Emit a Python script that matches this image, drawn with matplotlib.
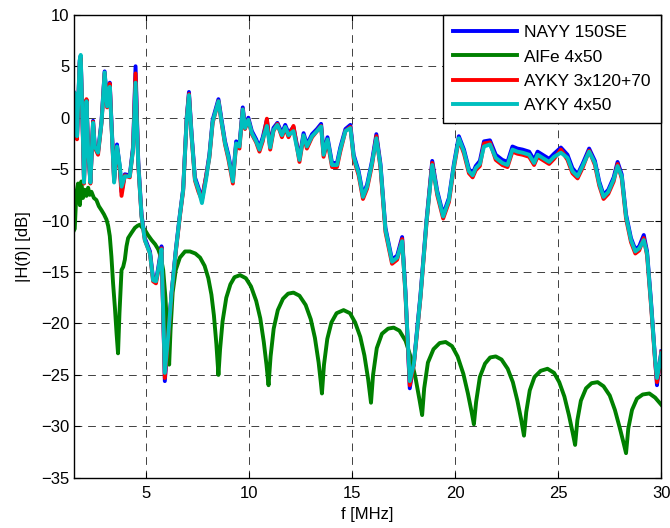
import matplotlib
matplotlib.use("Agg")
import matplotlib.pyplot as plt

plt.rcParams['font.family'] = ['Liberation Sans', 'DejaVu Sans']

# frequency points for the three AYKY/NAYY curves (MHz)
f_cable = [1.5, 1.55, 1.66, 1.79, 1.84, 1.95, 2.0, 2.12, 2.2, 2.31, 2.44, 2.52, 2.68, 2.85, 3.0,
           3.12, 3.25, 3.33, 3.46, 3.6, 3.74, 3.82, 3.98, 4.22, 4.38, 4.5, 4.63, 4.79, 4.95, 5.2,
           5.35, 5.49, 5.6, 5.76, 5.92, 6.08, 6.25, 6.45, 6.65, 6.81, 6.98, 7.09, 7.22, 7.38, 7.55,
           7.72, 7.92, 8.08, 8.24, 8.52, 8.68, 8.84, 9.0, 9.22, 9.38, 9.54, 9.7, 9.81, 9.97, 10.14,
           10.35, 10.51, 10.67, 10.87, 11.03, 11.19, 11.38, 11.6, 11.76, 11.92, 12.16, 12.45, 12.65, 12.81, 13.06,
           13.3, 13.5, 13.62, 13.81, 14.03, 14.27, 14.43, 14.68, 14.92, 15.08, 15.32, 15.53, 15.73, 15.97, 16.18,
           16.38, 16.62, 16.94, 17.19, 17.43, 17.59, 17.8, 18.0, 18.32, 18.61, 18.89, 19.13, 19.42, 19.7, 19.94,
           20.18, 20.43, 20.67, 20.85, 21.0, 21.2, 21.4, 21.69, 21.97, 22.29, 22.54, 22.78, 23.02, 23.27, 23.59,
           23.83, 24.0, 24.24, 24.56, 24.8, 25.13, 25.45, 25.69, 25.94, 26.18, 26.5, 26.78, 26.99, 27.2, 27.43,
           27.69, 27.88, 28.08, 28.29, 28.53, 28.74, 28.93, 29.15, 29.31, 29.5, 29.7, 29.79, 29.9, 30.0]

ayky_4x50 = [2.5, 2.4, -1.8, 5.6, 6.1, -2.1, -6.3, 1.6, -3.1, -6.3, -0.5, -2.8, -3.4, -0.5, 4.4,
             1.1, 3.0, -0.5, -6.3, -2.8, -4.7, -6.7, -5.7, -5.7, -3.1, 3.4, -4.4, -9.6, -11.9, -13.2,
             -15.8, -15.9, -14.8, -12.8, -24.8, -21.3, -17.0, -13.0, -9.5, -7.0, -0.2, 2.2, -1.8, -6.0, -7.0,
             -8.3, -6.0, -3.8, -0.4, 1.6, -0.5, -2.5, -3.8, -6.2, -2.5, -2.8, 0.8, -1.0, -0.2, -1.5,
             -2.3, -3.1, -2.1, -0.8, -2.9, -1.2, -0.7, -1.7, -0.9, -1.7, -1.3, -4.1, -1.7, -2.8, -1.8,
             -1.3, -0.85, -3.6, -2.1, -4.6, -4.6, -3.1, -1.3, -1.0, -3.8, -5.4, -7.7, -6.7, -4.4, -2.0,
             -4.7, -10.9, -14.0, -13.6, -12.0, -17.0, -25.6, -23.9, -17.4, -10.2, -4.6, -7.3, -9.6, -8.0, -4.7,
             -2.0, -3.3, -5.2, -5.6, -4.9, -4.5, -2.8, -2.6, -3.9, -4.4, -4.6, -3.1, -3.3, -3.4, -3.6,
             -4.4, -3.6, -3.9, -4.3, -3.8, -3.4, -3.9, -5.2, -5.7, -4.7, -3.3, -4.4, -6.4, -7.7, -7.2,
             -6.0, -4.7, -5.7, -9.6, -11.9, -13.0, -12.7, -11.9, -13.2, -18.0, -23.5, -25.3, -24.2, -22.9]

nayy_150se = [2.5, 2.3, -2.0, 5.5, 6.0, -2.0, -6.1, 1.7, -3.0, -6.2, -0.3, -2.7, -3.3, -0.3, 4.5,
              1.3, 3.4, -0.3, -6.0, -2.6, -4.9, -7.2, -5.5, -5.6, -2.8, 5.0, -4.2, -9.4, -11.7, -13.0,
              -15.6, -15.8, -14.6, -12.5, -25.6, -21.3, -17.0, -12.9, -9.4, -6.9, 0.0, 2.5, -1.6, -5.8, -6.8,
              -7.9, -5.7, -3.6, -0.2, 1.8, -0.3, -2.3, -3.6, -5.9, -2.3, -2.6, 1.0, -0.8, 0.0, -1.3,
              -2.1, -2.9, -1.9, -0.2, -2.7, -1.0, -0.5, -1.5, -0.7, -1.5, -0.9, -3.9, -1.5, -2.6, -1.6,
              -1.1, -0.6, -3.4, -1.9, -4.4, -4.4, -2.9, -1.1, -0.7, -3.6, -5.2, -7.5, -6.5, -4.2, -1.6,
              -4.5, -10.7, -13.8, -13.4, -11.6, -16.8, -26.3, -23.8, -17.2, -10.0, -4.2, -7.1, -9.4, -7.8, -4.5,
              -1.8, -3.1, -5.0, -5.4, -4.7, -4.2, -2.3, -2.2, -3.6, -4.1, -4.3, -2.8, -3.0, -3.1, -3.3,
              -4.1, -3.3, -3.6, -4.0, -3.5, -2.9, -3.6, -4.9, -5.5, -4.5, -3.0, -4.2, -6.2, -7.5, -7.0,
              -5.8, -4.3, -5.5, -9.4, -11.7, -12.8, -12.5, -11.4, -13.0, -17.8, -23.5, -26.0, -24.2, -22.7]

ayky_3x120 = [2.4, 2.2, -2.1, 5.3, 5.8, -2.3, -6.4, 1.8, -3.2, -6.4, -0.4, -2.9, -3.6, -0.5, 4.3,
              1.0, 3.3, -0.6, -6.2, -2.9, -5.1, -7.6, -5.6, -5.8, -3.0, 4.3, -4.5, -9.6, -11.9, -13.2,
              -15.9, -16.1, -14.9, -12.7, -25.3, -21.4, -17.1, -13.1, -9.6, -7.1, -0.1, 2.3, -1.9, -6.1, -7.2,
              -8.0, -5.7, -3.9, -0.5, 1.6, -0.6, -2.6, -4.0, -6.4, -2.6, -3.0, 0.8, -1.1, -0.2, -1.6,
              -2.4, -3.3, -2.3, -0.1, -3.1, -1.3, -0.6, -1.9, -1.0, -1.9, -0.8, -4.3, -1.8, -3.0, -1.9,
              -1.3, -0.8, -3.8, -2.3, -4.8, -4.8, -3.3, -1.3, -0.9, -4.0, -5.6, -7.9, -6.9, -4.6, -1.8,
              -4.9, -11.1, -14.2, -13.8, -11.8, -17.2, -26.0, -24.0, -17.5, -10.3, -4.4, -7.5, -9.8, -8.2, -4.9,
              -2.1, -3.5, -5.4, -5.8, -5.1, -4.7, -2.5, -2.4, -4.1, -4.6, -4.8, -3.3, -3.5, -3.6, -3.8,
              -4.6, -3.8, -4.1, -4.5, -4.0, -3.1, -4.1, -5.4, -5.9, -4.9, -3.2, -4.6, -6.6, -7.9, -7.4,
              -6.2, -4.5, -5.9, -9.8, -12.1, -13.2, -12.9, -11.7, -13.4, -18.2, -23.7, -25.7, -24.4, -22.8]

# frequency points and values for the AlFe curve
f_alfe = [1.5, 1.55, 1.63, 1.71, 1.8, 1.87, 1.95, 2.03, 2.12, 2.2, 2.28, 2.36, 2.48, 2.6, 2.72,
          2.85, 2.97, 3.09, 3.17, 3.25, 3.33, 3.41, 3.5, 3.58, 3.65, 3.72, 3.82, 3.9, 3.98, 4.06,
          4.14, 4.3, 4.47, 4.6, 4.71, 4.83, 4.95, 5.1, 5.28, 5.45, 5.6, 5.72, 5.84, 5.95, 6.05,
          6.13, 6.2, 6.3, 6.45, 6.65, 6.9, 7.14, 7.4, 7.63, 7.85, 8.03, 8.18, 8.3, 8.42, 8.52,
          8.6, 8.72, 8.9, 9.1, 9.3, 9.57, 9.85, 10.1, 10.35, 10.55, 10.72, 10.85, 10.95,
          11.05, 11.2, 11.4, 11.65, 11.9, 12.16, 12.45, 12.75, 13.0, 13.2, 13.38, 13.48, 13.54,
          13.64, 13.8, 14.0, 14.25, 14.59, 14.9, 15.15, 15.4, 15.6, 15.78, 15.92,
          16.02, 16.2, 16.45, 16.75, 17.02, 17.3, 17.6, 17.85, 18.08, 18.28, 18.4,
          18.5, 18.68, 18.95, 19.25, 19.54, 19.85, 20.12, 20.4, 20.62, 20.8, 20.91,
          21.02, 21.2, 21.45, 21.7, 21.97, 22.25, 22.55, 22.8, 23.02, 23.2, 23.34,
          23.45, 23.62, 23.85, 24.15, 24.48, 24.8, 25.05, 25.3, 25.52, 25.7, 25.82,
          25.93, 26.1, 26.35, 26.62, 26.91, 27.2, 27.5, 27.75, 27.98, 28.17, 28.29,
          28.4, 28.58, 28.82, 29.1, 29.42, 29.7, 30.0]

alfe_4x50 = [-11.0, -10.8, -7.3, -6.4, -8.5, -6.2, -7.8, -7.0, -7.6, -6.8, -7.5, -7.2, -7.8, -8.0, -8.6,
             -9.0, -9.4, -9.9, -10.5, -11.5, -13.5, -16.1, -18.5, -21.0, -22.9, -19.0, -14.8, -14.5, -13.8, -12.5,
             -11.7, -11.2, -10.7, -10.5, -10.4, -10.7, -10.9, -11.4, -11.9, -12.3, -12.8, -13.5, -14.8, -17.5, -21.0,
             -24.0, -20.5, -17.0, -14.8, -13.6, -13.0, -13.0, -13.2, -13.6, -14.4, -15.6, -17.2, -19.2, -22.0, -25.0,
             -22.5, -19.8, -17.5, -16.2, -15.5, -15.3, -15.6, -16.4, -17.8, -19.5, -21.8, -24.0, -26.0,
             -23.2, -20.5, -18.7, -17.6, -17.1, -17.0, -17.3, -18.2, -19.6, -21.4, -23.8, -25.6, -26.8,
             -24.0, -21.5, -19.9, -19.0, -18.7, -19.0, -19.9, -21.3, -23.1, -25.4, -27.7,
             -25.0, -22.4, -21.0, -20.5, -20.4, -20.7, -21.7, -23.3, -25.3, -27.5, -28.9,
             -26.3, -23.8, -22.5, -21.9, -21.8, -22.2, -23.2, -24.9, -26.8, -28.6, -29.8,
             -27.6, -25.2, -23.9, -23.3, -23.2, -23.5, -24.4, -25.7, -27.5, -29.3, -30.9,
             -28.6, -26.5, -25.2, -24.6, -24.4, -24.8, -25.7, -27.1, -28.9, -30.6, -31.8,
             -29.4, -27.5, -26.3, -25.8, -25.7, -26.1, -27.0, -28.4, -30.1, -31.6, -32.6,
             -30.2, -28.4, -27.3, -26.9, -26.8, -27.2, -27.9]

x_ticks = [5, 10, 15, 20, 25, 30]
y_ticks = [-35, -30, -25, -20, -15, -10, -5, 0, 5, 10]

fig = plt.figure(figsize=(6.7, 5.28), dpi=100)
ax = fig.add_axes([0.110, 0.095, 0.877, 0.877])

lw = 2.8
ax.plot(f_cable, nayy_150se, color=(0, 0, 1), lw=lw, label='NAYY 150SE')
ax.plot(f_alfe, alfe_4x50, color=(0, 0.5, 0), lw=lw, label='AlFe 4x50')
ax.plot(f_cable, ayky_3x120, color=(1, 0, 0), lw=lw, label='AYKY 3x120+70')
ax.plot(f_cable, ayky_4x50, color=(0, 0.75, 0.75), lw=lw, label='AYKY 4x50')

ax.set_xlim(1.5, 30)
ax.set_ylim(-35, 10)
ax.set_xticks(x_ticks)
ax.set_yticks(y_ticks)
ax.tick_params(direction='in', length=4, labelsize=12, top=True, right=True)
ax.tick_params(axis='x', pad=6)
ax.tick_params(axis='y', pad=3)
ax.grid(True, color='0.25', linestyle=(0, (8, 6)), linewidth=0.7)
for s in ax.spines.values():
    s.set_linewidth(1.0)

ax.set_xlabel('f [MHz]', fontsize=12, labelpad=4)
ax.set_ylabel('|H(f)| [dB]', fontsize=12, labelpad=7)

leg = ax.legend(loc='upper right', fontsize=12.5, handlelength=3.7, borderaxespad=0,
                fancybox=False, framealpha=1, edgecolor='k', labelspacing=0.52,
                handletextpad=0.4, borderpad=0.6)
leg.get_frame().set_linewidth(1.0)

fig.savefig('out.png', dpi=100)
